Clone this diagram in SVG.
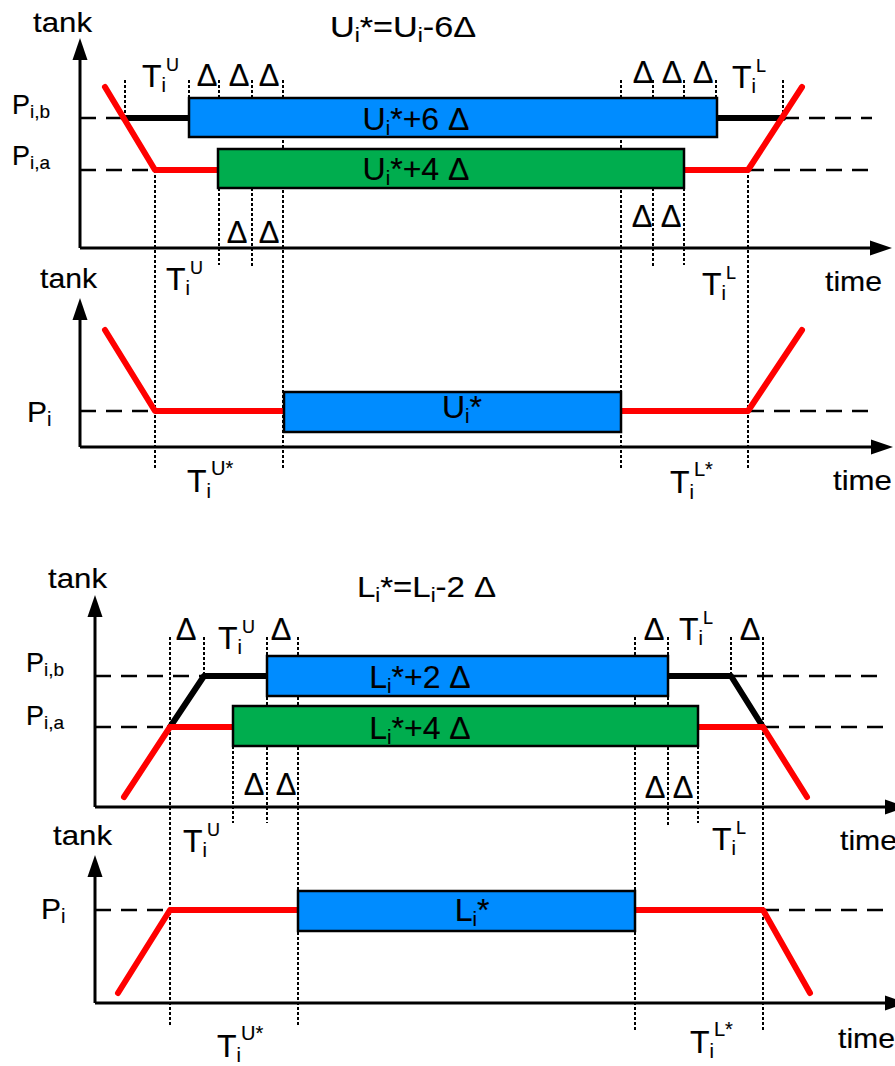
<svg xmlns="http://www.w3.org/2000/svg" width="895" height="1066" viewBox="0 0 895 1066">
<defs>
<style>
text{font-family:"Liberation Sans",Arial,sans-serif;fill:#000;stroke:#000;stroke-width:0.15}
.ax{stroke:#000;stroke-width:3;fill:none}
.ah{fill:#000;stroke:none}
.lvl{stroke:#000;stroke-width:2.5;stroke-dasharray:16 10;fill:none}
.dot{stroke:#000;stroke-width:2;stroke-dasharray:3 2;fill:none}
.red{stroke:#ff0000;stroke-width:6;stroke-linecap:round;stroke-linejoin:round;fill:none}
.blk{stroke:#000;stroke-width:6;stroke-linecap:round;stroke-linejoin:round;fill:none}
.bbox{fill:#008cff;stroke:#000;stroke-width:2.5}
.gbox{fill:#00ad4e;stroke:#000;stroke-width:2.5}
.w{font-size:28px}
.p{font-size:27px}
.pp{font-size:30px}
.t{font-size:32px}
.d{font-size:31px;text-anchor:middle}
.bl{font-size:32px;text-anchor:middle}
.ti{font-size:30px}
</style>
</defs>
<rect width="895" height="1066" fill="#fff"/>

<!-- ============ Chart 1 ============ -->
<g id="chart1">
<g id="c1-connectors">
<line class="dot" x1="125" y1="80" x2="125" y2="118"/>
<line class="dot" x1="189" y1="80" x2="189" y2="98"/>
<line class="dot" x1="219" y1="80" x2="219" y2="98"/>
<line class="dot" x1="219" y1="188" x2="219" y2="265"/>
<line class="dot" x1="252" y1="80" x2="252" y2="98"/>
<line class="dot" x1="252" y1="188" x2="252" y2="267"/>
<line class="dot" x1="283" y1="80" x2="283" y2="468"/>
<line class="dot" x1="155" y1="170" x2="155" y2="470"/>
<line class="dot" x1="621" y1="80" x2="621" y2="470"/>
<line class="dot" x1="653" y1="80" x2="653" y2="98"/>
<line class="dot" x1="653" y1="188" x2="653" y2="267"/>
<line class="dot" x1="684" y1="80" x2="684" y2="98"/>
<line class="dot" x1="684" y1="188" x2="684" y2="265"/>
<line class="dot" x1="716" y1="80" x2="716" y2="98"/>
<line class="dot" x1="783" y1="80" x2="783" y2="118"/>
<line class="dot" x1="748" y1="170" x2="748" y2="470"/>
<line class="ax" x1="80" y1="58" x2="80" y2="248"/>
<polygon class="ah" points="80,38 72.5,60 87.5,60"/>
<line class="ax" x1="80" y1="248" x2="872" y2="248"/>
<polygon class="ah" points="892,248 870,240.5 870,255.5"/>
<line class="lvl" x1="80" y1="118" x2="124" y2="118"/>
<line class="lvl" x1="783" y1="118" x2="872" y2="118"/>
<line class="lvl" x1="80" y1="170" x2="155" y2="170"/>
<line class="lvl" x1="748" y1="170" x2="872" y2="170"/>
<line class="blk" x1="124" y1="118" x2="189" y2="118"/>
<line class="blk" x1="717" y1="118" x2="783" y2="118"/>
<polyline class="red" points="105,87 155,170 218,170"/>
<polyline class="red" points="684,170 748,170 802,87"/>
</g>
<g id="c1-box-a"><rect class="bbox" x="189" y="98" width="528" height="39"/>
<text class="bl" x="416" y="130">U<tspan font-size="20" dy="5">i</tspan><tspan dy="-5">*+6 Δ</tspan></text></g>
<g id="c1-box-b"><rect class="gbox" x="218" y="149" width="466" height="39"/>
<text class="bl" x="416" y="180">U<tspan font-size="20" dy="5">i</tspan><tspan dy="-5">*+4 Δ</tspan></text></g>
<g id="c1-labels">
<text class="w" x="33" y="32" textLength="59" lengthAdjust="spacingAndGlyphs">tank</text>
<text class="ti" transform="translate(330,37) scale(1.14,1)">U<tspan font-size="20" dy="5">i</tspan><tspan dy="-5">*=U</tspan><tspan font-size="20" dy="5">i</tspan><tspan dy="-5">-6Δ</tspan></text>
<text class="p" x="12" y="114">P<tspan font-size="19" dy="4">i,b</tspan></text>
<text class="p" x="12" y="165">P<tspan font-size="19" dy="4">i,a</tspan></text>
<text class="t" x="142" y="87">T<tspan font-size="20" dy="5">i</tspan><tspan font-size="18" dy="-21">U</tspan></text>
<text class="d" x="207" y="86">Δ</text>
<text class="d" x="239" y="86">Δ</text>
<text class="d" x="269" y="86">Δ</text>
<text class="d" x="237" y="243">Δ</text>
<text class="d" x="269" y="243">Δ</text>
<text class="t" x="166" y="290">T<tspan font-size="20" dy="5">i</tspan><tspan font-size="18" dy="-21">U</tspan></text>
<text class="d" x="643" y="83">Δ</text>
<text class="d" x="672" y="83">Δ</text>
<text class="d" x="703" y="83">Δ</text>
<text class="t" x="732" y="88">T<tspan font-size="20" dy="5">i</tspan><tspan font-size="18" dy="-21">L</tspan></text>
<text class="d" x="642" y="227">Δ</text>
<text class="d" x="671" y="227">Δ</text>
<text class="t" x="702" y="295">T<tspan font-size="20" dy="5">i</tspan><tspan font-size="18" dy="-21">L</tspan></text>
<text class="w" x="825" y="291" textLength="57" lengthAdjust="spacingAndGlyphs">time</text>
</g>
</g>

<!-- ============ Chart 2 ============ -->
<g id="chart2">
<g id="c2-connectors">
<line class="ax" x1="80" y1="318" x2="80" y2="447"/>
<polygon class="ah" points="80,298 72.5,320 87.5,320"/>
<line class="ax" x1="80" y1="447" x2="873" y2="447"/>
<polygon class="ah" points="893,447 871,439.5 871,454.5"/>
<line class="lvl" x1="80" y1="411" x2="155" y2="411"/>
<line class="lvl" x1="748" y1="411" x2="872" y2="411"/>
<polyline class="red" points="105,330 155,411 284,411"/>
<polyline class="red" points="621,411 748,411 802,330"/>
</g>
<g id="c2-box"><rect class="bbox" x="284" y="392" width="337" height="40"/>
<text class="bl" x="462" y="418" font-size="30">U<tspan font-size="20" dy="5">i</tspan><tspan dy="-5">*</tspan></text></g>
<g id="c2-labels">
<text class="w" x="40" y="288" textLength="57" lengthAdjust="spacingAndGlyphs">tank</text>
<text class="pp" x="27" y="422">P<tspan font-size="20" dy="4">i</tspan></text>
<text class="t" x="187" y="492">T<tspan font-size="20" dy="6">i</tspan><tspan font-size="20" dy="-23">U*</tspan></text>
<text class="t" x="670" y="493">T<tspan font-size="20" dy="6">i</tspan><tspan font-size="20" dy="-23">L*</tspan></text>
<text class="w" x="833" y="490" textLength="59" lengthAdjust="spacingAndGlyphs">time</text>
</g>
</g>

<!-- ============ Chart 3 ============ -->
<g id="chart3">
<g id="c3-connectors">
<line class="dot" x1="170" y1="637" x2="170" y2="1027"/>
<line class="dot" x1="204" y1="637" x2="204" y2="676"/>
<line class="dot" x1="267" y1="637" x2="267" y2="823"/>
<line class="dot" x1="298" y1="637" x2="298" y2="1025"/>
<line class="dot" x1="233" y1="746" x2="233" y2="823"/>
<line class="dot" x1="635" y1="637" x2="635" y2="1030"/>
<line class="dot" x1="668" y1="637" x2="668" y2="825"/>
<line class="dot" x1="698" y1="746" x2="698" y2="823"/>
<line class="dot" x1="731" y1="637" x2="731" y2="676"/>
<line class="dot" x1="763" y1="637" x2="763" y2="1030"/>
<line class="ax" x1="95" y1="617" x2="95" y2="807"/>
<polygon class="ah" points="95,595 87.5,617 102.5,617"/>
<line class="ax" x1="95" y1="807" x2="887" y2="807"/>
<polygon class="ah" points="907,807 885,799.5 885,814.5"/>
<line class="lvl" x1="95" y1="676" x2="204" y2="676"/>
<line class="lvl" x1="731" y1="676" x2="887" y2="676"/>
<line class="lvl" x1="95" y1="727" x2="170" y2="727"/>
<line class="lvl" x1="763" y1="727" x2="887" y2="727"/>
<polyline class="blk" points="170,727 204,676 267,676"/>
<polyline class="blk" points="668,676 731,676 763,727"/>
<polyline class="red" points="124,797 170,727 233,727"/>
<polyline class="red" points="698,727 763,727 807,797"/>
</g>
<g id="c3-box-a"><rect class="bbox" x="267" y="656" width="401" height="40"/>
<text class="bl" x="420" y="688">L<tspan font-size="20" dy="5">i</tspan><tspan dy="-5">*+2 Δ</tspan></text></g>
<g id="c3-box-b"><rect class="gbox" x="233" y="706" width="465" height="40"/>
<text class="bl" x="420" y="739">L<tspan font-size="20" dy="5">i</tspan><tspan dy="-5">*+4 Δ</tspan></text></g>
<g id="c3-labels">
<text class="w" x="48" y="588" textLength="59" lengthAdjust="spacingAndGlyphs">tank</text>
<text class="ti" transform="translate(357,597) scale(1.1,1)">L<tspan font-size="20" dy="5">i</tspan><tspan dy="-5">*=L</tspan><tspan font-size="20" dy="5">i</tspan><tspan dy="-5">-2 Δ</tspan></text>
<text class="p" x="26" y="672">P<tspan font-size="19" dy="4">i,b</tspan></text>
<text class="p" x="26" y="725">P<tspan font-size="19" dy="4">i,a</tspan></text>
<text class="d" x="186" y="640">Δ</text>
<text class="t" x="218" y="649">T<tspan font-size="20" dy="5">i</tspan><tspan font-size="18" dy="-21">U</tspan></text>
<text class="d" x="281" y="640">Δ</text>
<text class="d" x="254" y="795">Δ</text>
<text class="d" x="286" y="795">Δ</text>
<text class="t" x="183" y="852">T<tspan font-size="20" dy="5">i</tspan><tspan font-size="18" dy="-21">U</tspan></text>
<text class="d" x="654" y="640">Δ</text>
<text class="t" x="679" y="640">T<tspan font-size="20" dy="5">i</tspan><tspan font-size="18" dy="-21">L</tspan></text>
<text class="d" x="750" y="640">Δ</text>
<text class="d" x="655" y="798">Δ</text>
<text class="d" x="683" y="798">Δ</text>
<text class="t" x="712" y="850">T<tspan font-size="20" dy="5">i</tspan><tspan font-size="18" dy="-21">L</tspan></text>
<text class="w" x="840" y="850" textLength="57" lengthAdjust="spacingAndGlyphs">time</text>
</g>
</g>

<!-- ============ Chart 4 ============ -->
<g id="chart4">
<g id="c4-connectors">
<line class="ax" x1="95" y1="877" x2="95" y2="1003"/>
<polygon class="ah" points="95,855 87.5,877 102.5,877"/>
<line class="ax" x1="95" y1="1003" x2="887" y2="1003"/>
<polygon class="ah" points="907,1003 885,995.5 885,1010.5"/>
<line class="lvl" x1="95" y1="910" x2="170" y2="910"/>
<line class="lvl" x1="763" y1="910" x2="887" y2="910"/>
<polyline class="red" points="118,993 170,910 298,910"/>
<polyline class="red" points="635,910 763,910 810,993"/>
</g>
<g id="c4-box"><rect class="bbox" x="298" y="891" width="337" height="40"/>
<text class="bl" x="472" y="921" font-size="30">L<tspan font-size="20" dy="5">i</tspan><tspan dy="-5">*</tspan></text></g>
<g id="c4-labels">
<text class="w" x="53" y="845" textLength="59" lengthAdjust="spacingAndGlyphs">tank</text>
<text class="pp" x="41" y="919">P<tspan font-size="20" dy="4">i</tspan></text>
<text class="t" x="217" y="1057">T<tspan font-size="20" dy="5">i</tspan><tspan font-size="20" dy="-22">U*</tspan></text>
<text class="t" x="690" y="1053">T<tspan font-size="20" dy="5">i</tspan><tspan font-size="20" dy="-22">L*</tspan></text>
<text class="w" x="838" y="1048" textLength="57" lengthAdjust="spacingAndGlyphs">time</text>
</g>
</g>
</svg>
